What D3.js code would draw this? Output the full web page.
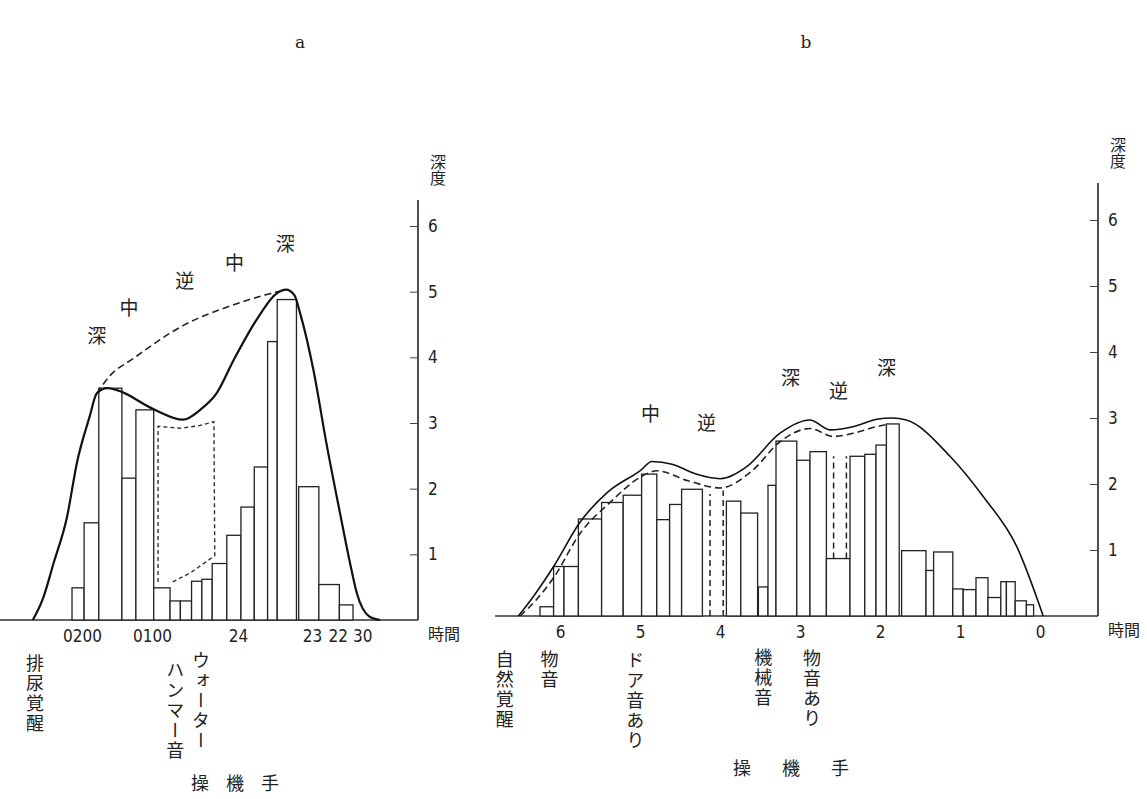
<!DOCTYPE html>
<html>
<head>
<meta charset="UTF-8">
<title>睡眠深度</title>
<script src="https://cdn.jsdelivr.net/npm/d3@7"></script>
<style>
body { margin: 0; background: #fff; }
svg { display: block; }
.num { font-family: "DejaVu Sans Condensed", "Liberation Sans Narrow", "Liberation Sans", sans-serif; font-size: 17px; fill: #222; }
.jp { font-family: "Noto Sans CJK JP", sans-serif; font-weight: 400; fill: #222; }
.vert { writing-mode: vertical-rl; text-orientation: upright; }
.bar { fill: #fff; stroke: #222; stroke-width: 1.3; }
</style>
</head>
<body>
<script>
// ---- panel a : hours (24 = midnight, 25 = 01:00 ...) ----
var aTickHours  = [26, 25, 24, 23, 22.5];
var aTickLabels = ["0200", "0100", "24", "23", "22 30"];
// bars: [from hour, to hour, depth]
var aBars = [
  [26.14, 25.97, 0.49], [25.97, 25.76, 1.48], [25.76, 25.43, 3.53],
  [25.43, 25.23, 2.16], [25.23, 24.98, 3.20], [24.98, 24.79, 0.49],
  [24.79, 24.67, 0.29], [24.67, 24.54, 0.29], [24.54, 24.42, 0.59],
  [24.42, 24.30, 0.62], [24.30, 24.13, 0.86], [24.13, 23.96, 1.29],
  [23.96, 23.78, 1.72], [23.78, 23.60, 2.33], [23.60, 23.47, 4.24],
  [23.47, 23.21, 4.88], [23.18, 22.91, 2.03], [22.91, 22.64, 0.54],
  [22.64, 22.46, 0.23]
];
var aCurve = [
  [26.69, 0], [26.54, 0.35], [26.40, 0.86], [26.21, 1.57], [26.07, 2.4],
  [25.89, 3.1], [25.79, 3.45], [25.64, 3.53], [25.50, 3.50], [24.98, 3.21],
  [24.64, 3.05], [24.44, 3.2], [24.25, 3.45], [24.05, 3.96], [23.75, 4.57],
  [23.48, 4.97], [23.35, 5.03], [23.24, 4.95], [23.16, 4.67], [22.98, 3.8],
  [22.81, 2.69], [22.63, 1.62], [22.48, 0.76], [22.41, 0.41], [22.24, 0.05],
  [22.10, 0]
];
var aDashed = [
  [25.79, 3.45], [25.6, 3.72], [25.27, 3.98], [24.63, 4.49], [24.05, 4.8],
  [23.6, 4.96], [23.38, 5.02]
];
// ウォーターハンマー音 region
var aBox = [
  [24.93, 0.58], [24.93, 2.95], [24.67, 2.92], [24.45, 2.96], [24.28, 3.02],
  [24.27, 0.98], [24.55, 0.72], [24.79, 0.56]
];
var aStages = [
  [25.79, 4.22, "深"], [25.33, 4.65, "中"], [24.62, 5.05, "逆"],
  [24.04, 5.33, "中"], [23.36, 5.62, "深"]
];

// ---- panel b : hours before waking ----
var bTicks = [6, 5, 4, 3, 2, 1, 0];
var bBars = [
  [6.25, 6.08, 0.14], [6.08, 5.95, 0.75], [5.95, 5.77, 0.75], [5.77, 5.48, 1.47],
  [5.48, 5.21, 1.72], [5.21, 4.98, 1.83], [4.98, 4.79, 2.15], [4.79, 4.63, 1.46],
  [4.63, 4.48, 1.69], [4.48, 4.22, 1.92], [3.92, 3.74, 1.74], [3.74, 3.53, 1.56],
  [3.52, 3.40, 0.44], [3.40, 3.30, 1.98], [3.30, 3.04, 2.65], [3.04, 2.875, 2.36],
  [2.875, 2.67, 2.49], [2.67, 2.375, 0.87], [2.375, 2.19, 2.42], [2.19, 2.05, 2.45],
  [2.05, 1.92, 2.59], [1.92, 1.76, 2.91], [1.73, 1.425, 0.99], [1.425, 1.33, 0.69],
  [1.33, 1.09, 0.97], [1.09, 0.96, 0.41], [0.96, 0.80, 0.40], [0.80, 0.65, 0.58],
  [0.65, 0.49, 0.28], [0.49, 0.42, 0.52], [0.42, 0.31, 0.52], [0.31, 0.17, 0.23],
  [0.17, 0.08, 0.17]
];
var bCurve = [
  [6.52, 0], [6.33, 0.3], [6.08, 0.75], [5.75, 1.42], [5.40, 1.88], [5.0, 2.2],
  [4.85, 2.34], [4.6, 2.3], [4.3, 2.15], [4.0, 2.08], [3.67, 2.26], [3.25, 2.77],
  [2.875, 2.97], [2.625, 2.82], [2.3, 2.88], [2.04, 2.98], [1.85, 3.0],
  [1.67, 2.97], [1.125, 2.42], [0.71, 1.81], [0.29, 1.05], [-0.04, 0]
];
var bDashed = [
  [6.5, 0], [6.3, 0.24], [6.08, 0.58], [5.75, 1.25], [5.375, 1.72], [5.0, 2.1],
  [4.79, 2.2], [4.4, 2.05], [4.0, 1.94], [3.6, 2.2], [3.25, 2.64], [2.875, 2.84],
  [2.58, 2.72], [2.3, 2.78], [2.04, 2.87], [1.92, 2.9]
];
// dashed bar sides [hour, depth from, depth to]
var bDashSides = [
  [4.125, 0, 1.85], [3.96, 0, 1.9], [2.58, 0.87, 2.42], [2.42, 0.87, 2.42]
];
var bStages = [
  [4.87, 2.95, "中"], [4.17, 2.82, "逆"], [3.12, 3.5, "深"], [2.52, 3.3, "逆"],
  [1.92, 3.65, "深"]
];

var yTicks = [1, 2, 3, 4, 5, 6];

var W = 1147, H = 799;
var svg = d3.select("body").append("svg").attr("width", W).attr("height", H);

var line = d3.line().curve(d3.curveMonotoneX);

function panel(opt) {
  var g = svg.append("g");
  var x = opt.x, y = opt.y;

  // baseline and vertical axis
  g.append("line").attr("x1", opt.left).attr("x2", opt.axisX)
    .attr("y1", y(0)).attr("y2", y(0)).attr("stroke", "#333").attr("stroke-width", 1.3);
  g.append("line").attr("x1", opt.axisX).attr("x2", opt.axisX)
    .attr("y1", y(0)).attr("y2", opt.axisTop).attr("stroke", "#222").attr("stroke-width", 1.6);

  var ya = g.append("g").attr("transform", "translate(" + opt.axisX + ",0)")
    .call(d3.axisRight(y).tickValues(yTicks).tickFormat(d3.format("d"))
      .tickSizeInner(-8).tickSizeOuter(0).tickPadding(10));
  ya.select(".domain").remove();
  ya.selectAll("text").attr("class", "num").attr("font-family", null).attr("font-size", null);
  ya.selectAll("line").attr("stroke", "#444");

  var xa = g.append("g").attr("transform", "translate(0," + y(0) + ")")
    .call(d3.axisBottom(x).tickValues(opt.ticks).tickFormat(opt.fmt).tickSize(0).tickPadding(10));
  xa.select(".domain").remove();
  xa.selectAll("text").attr("class", "num").attr("font-family", null).attr("font-size", null);

  // bars
  g.selectAll(".bar").data(opt.bars).enter().append("rect")
    .attr("class", "bar")
    .attr("x", function(d) { return x(d[0]); })
    .attr("width", function(d) { return x(d[1]) - x(d[0]); })
    .attr("y", function(d) { return y(d[2]); })
    .attr("height", function(d) { return y(0) - y(d[2]); });

  var toXY = function(p) { return [x(p[0]), y(p[1])]; };

  g.append("path").attr("d", line(opt.dashed.map(toXY)))
    .attr("fill", "none").attr("stroke", "#222").attr("stroke-width", 1.6)
    .attr("stroke-dasharray", "7,4");
  g.append("path").attr("d", line(opt.curve.map(toXY)))
    .attr("fill", "none").attr("stroke", "#111").attr("stroke-width", opt.curveW);

  // stage labels
  g.selectAll(".stage").data(opt.stages).enter().append("text")
    .attr("class", "jp").attr("font-size", 19).attr("text-anchor", "middle")
    .attr("x", function(d) { return x(d[0]); })
    .attr("y", function(d) { return y(d[1]); })
    .text(function(d) { return d[2]; });

  // 深度 / 時間
  g.append("text").attr("class", "jp vert").attr("font-size", 16)
    .attr("x", opt.axisX + 20).attr("y", opt.axisTop - 46).text("深度");
  g.append("text").attr("class", "jp").attr("font-size", 16)
    .attr("x", opt.axisX + 10).attr("y", y(0) + 20).text("時間");

  return g;
}

// panel a
var xA = d3.scaleLinear()
  .domain([27.15, 26, 25, 24, 23, 22.5, 21.6])
  .range([0, 82, 152, 238, 312, 350, 418]);
var yA = d3.scaleLinear().domain([0, 6]).range([620, 226]);
var gA = panel({
  x: xA, y: yA, left: 0, axisX: 418, axisTop: 200,
  ticks: aTickHours, fmt: function(d, i) { return aTickLabels[i]; },
  bars: aBars, curve: aCurve, dashed: aDashed, stages: aStages, curveW: 2.2
});
gA.append("path").attr("d", d3.line()(aBox.map(function(p) { return [xA(p[0]), yA(p[1])]; })))
  .attr("fill", "none").attr("stroke", "#333").attr("stroke-width", 1.4)
  .attr("stroke-dasharray", "4,3");

// panel b
var xB = d3.scaleLinear().domain([6.8125, -0.725]).range([495, 1098]);
var yB = d3.scaleLinear().domain([0, 6]).range([616, 220]);
var gB = panel({
  x: xB, y: yB, left: 495, axisX: 1098, axisTop: 183,
  ticks: bTicks, fmt: d3.format("d"),
  bars: bBars, curve: bCurve, dashed: bDashed, stages: bStages, curveW: 1.6
});
gB.selectAll(".dside").data(bDashSides).enter().append("line")
  .attr("x1", function(d) { return xB(d[0]); }).attr("x2", function(d) { return xB(d[0]); })
  .attr("y1", function(d) { return yB(d[1]); }).attr("y2", function(d) { return yB(d[2]); })
  .attr("stroke", "#222").attr("stroke-width", 1.5).attr("stroke-dasharray", "6,4");

// panel titles
svg.append("text").attr("class", "num").attr("font-size", 15).attr("x", 300).attr("y", 48)
  .attr("text-anchor", "middle").style("font-family", "'DejaVu Serif', serif").text("a");
svg.append("text").attr("class", "num").attr("font-size", 15).attr("x", 806).attr("y", 48)
  .attr("text-anchor", "middle").style("font-family", "'DejaVu Serif', serif").text("b");

// event notes below the time axis: [hour, text, top y]
var aNotes = [[26.66, "排尿覚醒", 654], [24.73, "ハンマー音", 661], [24.43, "ウォーター", 651]];
var bNotes = [[6.69, "自然覚醒", 650], [6.13, "物音", 650], [5.06, "ドア音あり", 651],
              [3.46, "機械音", 648], [2.85, "物音あり", 649]];
function notes(data, x) {
  svg.selectAll(null).data(data).enter().append("text")
    .attr("class", "jp vert").attr("font-size", 18)
    .attr("x", function(d) { return x(d[0]); })
    .attr("y", function(d) { return d[2]; })
    .attr("letter-spacing", 2)
    .text(function(d) { return d[1]; });
}
notes(aNotes, xA);
notes(bNotes, xB);

// 操機手
var subject = ["操", "機", "手"];
svg.selectAll(null).data(subject).enter().append("text")
  .attr("class", "jp").attr("font-size", 18).attr("font-weight", 500).attr("text-anchor", "middle")
  .attr("x", function(d, i) { return 200 + i * 35; }).attr("y", 790).text(function(d) { return d; });
svg.selectAll(null).data(subject).enter().append("text")
  .attr("class", "jp").attr("font-size", 18).attr("font-weight", 500).attr("text-anchor", "middle")
  .attr("x", function(d, i) { return 742 + i * 49; }).attr("y", 775).text(function(d) { return d; });
</script>
</body>
</html>
